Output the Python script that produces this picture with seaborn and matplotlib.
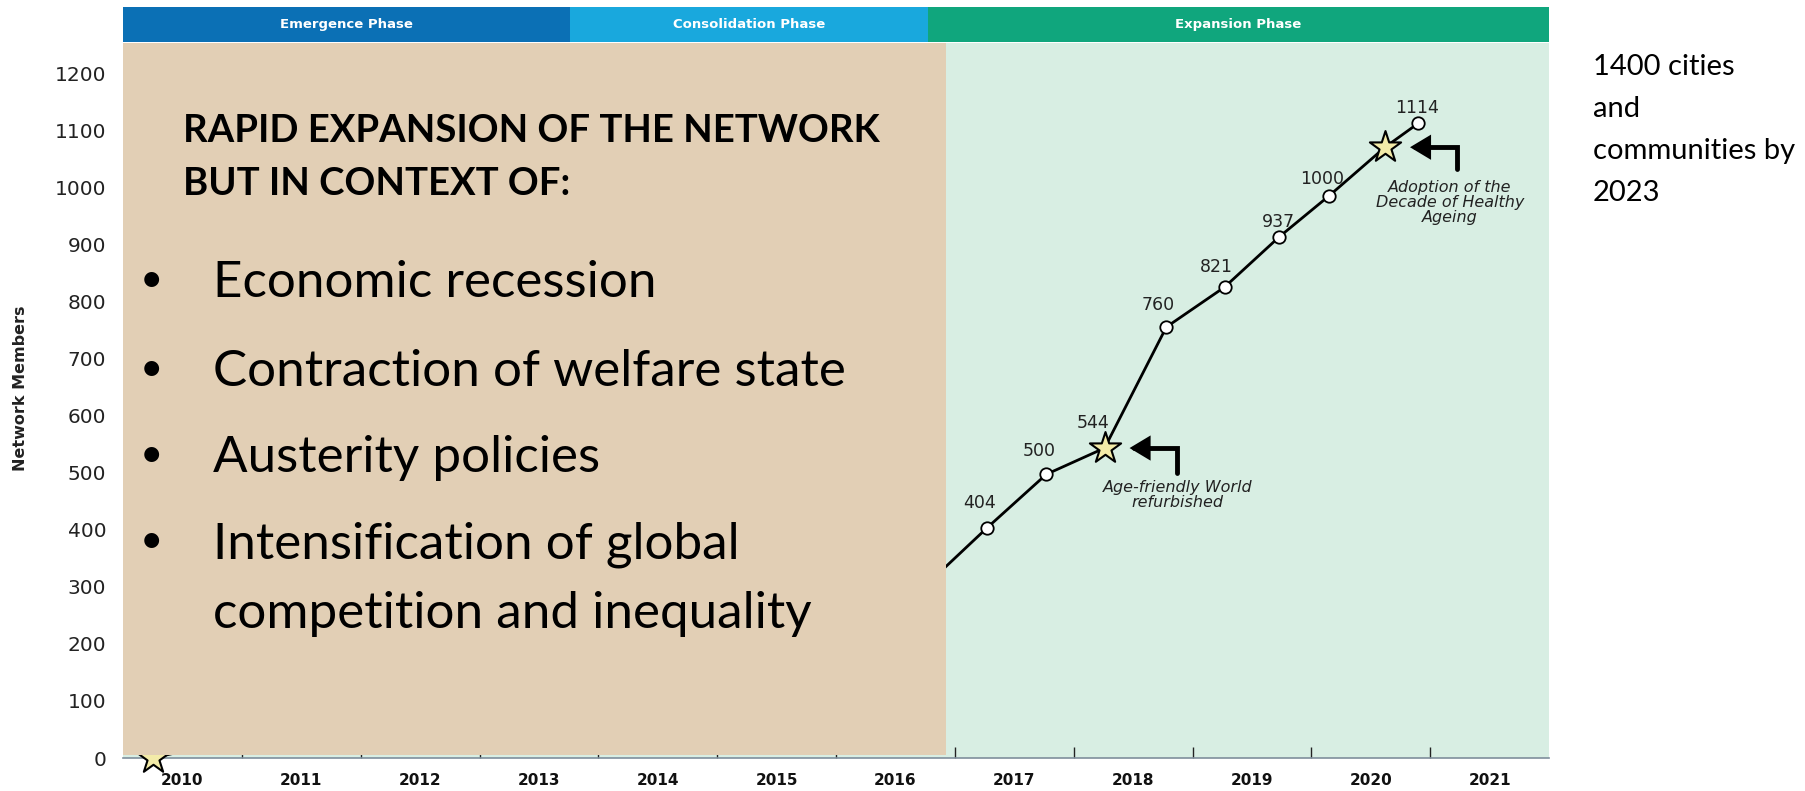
import numpy as np
import pandas as pd
import matplotlib
matplotlib.use("Agg")
import matplotlib.pyplot as plt
from matplotlib.patches import Rectangle
import seaborn as sns

W, H = 1806, 791

YEARS = list(range(2010, 2022))
YEAR_LABELS = [str(y) for y in YEARS]
Y_TICKS = list(range(0, 1201, 100))

# network members (x = position along the year axis)
point_years = [2016.27, 2016.77, 2017.27, 2018.28, 2018.77, 2019.23, 2019.65, 2020.40]
point_members = [305, 403, 497, 755, 825, 913, 985, 1112]
point_labels = ["", "404", "500", "760", "821", "937", "1000", "1114"]

milestone_years = [2009.75, 2017.76, 2020.12]
milestone_members = [0, 543, 1070]
milestone_labels = ["", "544", ""]
milestone_notes = ["", "Age-friendly World\nrefurbished",
                   "Adoption of the\nDecade of Healthy\nAgeing"]

phase_names = ["Emergence Phase", "Consolidation Phase", "Expansion Phase"]
phase_starts = [2009.5, 2013.26, 2016.27]
phase_ends = [2013.26, 2016.27, 2021.5]
phase_colors = ["#0b70b5", "#19a8dd", "#10a67d"]

heading = ["RAPID EXPANSION OF THE NETWORK", "BUT IN CONTEXT OF:"]
bullets = ["Economic recession", "Contraction of welfare state", "Austerity policies",
           "Intensification of global\ncompetition and inequality"]
side_note = ["1400 cities", "and", "communities by", "2023"]

# label placement (pixels from the marker)
POINT_LABEL_OFFSETS = [(0, 0), (-7, 25), (-7, 23), (-8, 22), (-8, 20), (-1, 15), (-7, 17), (-1, 15)]
MILESTONE_LABEL_OFFSETS = [(0, 0), (-12, 25), (0, 0)]
NOTE_ARROW_OFFSETS = [(0, 0), (72, -25), (72, -22)]
NOTE_TEXT_OFFSETS = [(0, 0), (73, -47), (65, -55)]

points = pd.DataFrame({"year": point_years, "members": point_members, "label": point_labels})
milestones = pd.DataFrame({"year": milestone_years, "members": milestone_members,
                           "label": milestone_labels, "note": milestone_notes})
line_df = pd.concat([points, milestones]).sort_values("year")

sns.set_theme(style="white")
plt.rcParams["font.family"] = ["DejaVu Sans"]

fig = plt.figure(figsize=(W / 100, H / 100), dpi=100)
fig.patch.set_facecolor("white")

ax = fig.add_axes([123 / W, 1 - 758 / H, 1426 / W, 715 / H])
ax.set_facecolor("#d8eee3")

sns.lineplot(data=line_df, x="year", y="members", color="black", linewidth=2,
             sort=True, ax=ax, zorder=3)
sns.scatterplot(data=points, x="year", y="members", marker="o", s=80, color="white",
                edgecolor="black", linewidth=1.3, ax=ax, zorder=4)
sns.scatterplot(data=milestones, x="year", y="members", marker="*", s=560, color="#f3eba8",
                edgecolor="black", linewidth=1.5, ax=ax, zorder=5, clip_on=False)

ax.set_xlim(2009.5, 2021.5)
ax.set_ylim(0, 1252.6)
ax.set_xticks(YEARS, YEAR_LABELS)
ax.set_xticks(np.arange(2010.5, 2021.0, 1.0), minor=True)
ax.set_yticks(Y_TICKS, [str(v) for v in Y_TICKS])
ax.tick_params(axis="x", which="major", length=0, pad=11, labelsize=11, labelcolor="#111")
ax.tick_params(axis="x", which="minor", direction="in", length=8, width=1, color="#222", bottom=True)
ax.tick_params(axis="y", length=0, pad=12, labelsize=14.5, labelcolor="#222")
for lbl in ax.get_xticklabels():
    lbl.set_fontweight("bold")
ax.set_xlabel("")
ax.set_ylabel("")
for side in ["left", "top", "right"]:
    ax.spines[side].set_visible(False)
ax.spines["bottom"].set_color("#7f8f9c")
ax.spines["bottom"].set_linewidth(1.2)

for i, row in points.iterrows():
    if row["label"]:
        ax.annotate(row["label"], (row["year"], row["members"]), xytext=POINT_LABEL_OFFSETS[i],
                    textcoords="offset pixels", ha="center", va="center",
                    fontsize=12.5, color="#222", zorder=6)

for i, row in milestones.iterrows():
    if row["label"]:
        ax.annotate(row["label"], (row["year"], row["members"]), xytext=MILESTONE_LABEL_OFFSETS[i],
                    textcoords="offset pixels", ha="center", va="center",
                    fontsize=12.5, color="#222", zorder=6)
    if row["note"]:
        ax.annotate("", (row["year"], row["members"]), xytext=NOTE_ARROW_OFFSETS[i],
                    textcoords="offset pixels",
                    arrowprops=dict(arrowstyle="-|>,head_length=1.0,head_width=0.6",
                                    connectionstyle="angle,angleA=90,angleB=0,rad=0",
                                    color="black", lw=3.5, shrinkA=0, shrinkB=18,
                                    mutation_scale=10, joinstyle="miter"))
        ax.annotate(row["note"], (row["year"], row["members"]), xytext=NOTE_TEXT_OFFSETS[i],
                    textcoords="offset pixels", ha="center", va="center",
                    fontsize=11.5, fontstyle="italic", color="#222", linespacing=1.0)

# the slide's text box sits on top of the left part of the chart
ax.add_patch(Rectangle((0, 0.004), 0.5771, 0.996, transform=ax.transAxes,
                       facecolor="#e2cfb5", edgecolor="none", zorder=10, clip_on=False))

fig.text(21 / W, 1 - 388 / H, "Network Members", rotation=90, ha="center", va="center",
         fontsize=11.5, fontweight="bold", color="#222")

# phase strip above the plot
pax = fig.add_axes([123 / W, 1 - 42 / H, 1426 / W, 35 / H])
pax.barh(0, [e - s for s, e in zip(phase_starts, phase_ends)], left=phase_starts,
         height=1, color=phase_colors, linewidth=0)
pax.set_xlim(2009.5, 2021.5)
pax.set_ylim(-0.5, 0.5)
for name, s, e in zip(phase_names, phase_starts, phase_ends):
    pax.text((s + e) / 2, 0, name, ha="center", va="center", color="white",
             fontsize=9.5, fontweight="bold")
pax.axis("off")

# slide text
for j, line in enumerate(heading):
    fig.text(183 / W, 1 - (142 + 53 * j) / H, line, fontfamily="Lato", fontweight="bold",
             fontsize=27.5, color="black", va="baseline", ha="left")

bullet_baselines = [297, 386, 472, 558]
for text, base in zip(bullets, bullet_baselines):
    fig.text(151 / W, 1 - (base - 5) / H, "\u2022", fontfamily="Lato", fontsize=29,
             ha="center", va="baseline", color="black")
    for k, part in enumerate(text.split("\n")):
        fig.text(213 / W, 1 - (base + 70 * k) / H, part, fontfamily="Lato", fontsize=36.8,
                 ha="left", va="baseline", color="black")

side_baselines = [75, 117, 159, 201]
for line, base in zip(side_note, side_baselines):
    fig.text(1593 / W, 1 - base / H, line, fontfamily="Lato", fontsize=21,
             ha="left", va="baseline", color="black")

fig.savefig("out.png", dpi=100)
